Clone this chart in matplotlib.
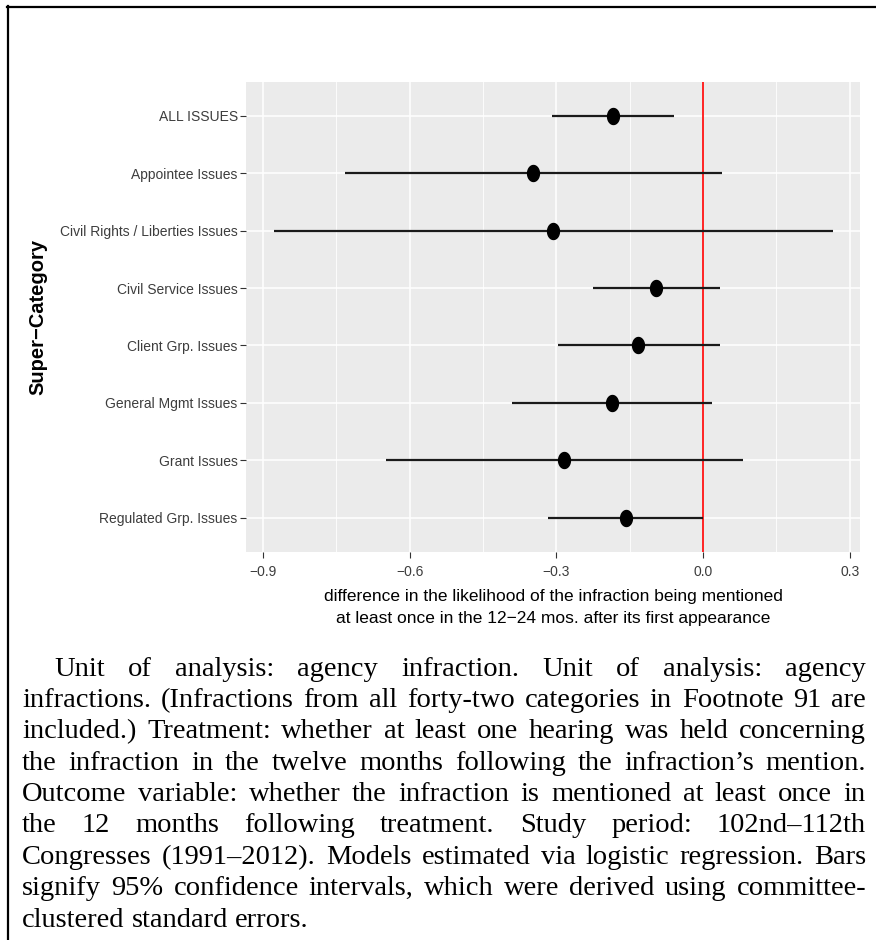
import numpy as np
import matplotlib
matplotlib.use('Agg')
import matplotlib.pyplot as plt
from matplotlib.path import Path
from matplotlib.lines import Line2D
from matplotlib import font_manager

# data
categories = ['ALL ISSUES', 'Appointee Issues', 'Civil Rights / Liberties Issues',
              'Civil Service Issues', 'Client Grp. Issues', 'General Mgmt Issues',
              'Grant Issues', 'Regulated Grp. Issues']
estimates = [-0.185, -0.348, -0.308, -0.097, -0.133, -0.187, -0.284, -0.158]
ci_low = [-0.309, -0.733, -0.877, -0.225, -0.297, -0.390, -0.649, -0.317]
ci_high = [-0.060, 0.038, 0.266, 0.034, 0.034, 0.018, 0.082, 0.000]
x_ticks = [-0.9, -0.6, -0.3, 0.0, 0.3]
x_minor = [-0.75, -0.45, -0.15, 0.15]

x_title = ['difference in the likelihood of the infraction being mentioned',
           'at least once in the 12\u221224 mos. after its first appearance']
y_title = 'Super\u2212Category'

caption = [
    'Unit of analysis: agency infraction. Unit of analysis: agency',
    'infractions. (Infractions from all forty-two categories in Footnote 91 are',
    'included.) Treatment: whether at least one hearing was held concerning',
    'the infraction in the twelve months following the infraction\u2019s mention.',
    'Outcome variable: whether the infraction is mentioned at least once in',
    'the 12 months following treatment. Study period: 102nd\u2013112th',
    'Congresses (1991\u20132012). Models estimated via logistic regression. Bars',
    'signify 95% confidence intervals, which were derived using committee-',
    'clustered standard errors.',
]

names = {f.name for f in font_manager.fontManager.ttflist}
sans = 'Liberation Sans Narrow' if 'Liberation Sans Narrow' in names else 'Liberation Sans'
plt.rcParams['font.family'] = [sans, 'DejaVu Sans']

W, H = 876, 940
fig = plt.figure(figsize=(W / 100, H / 100), dpi=100)

# page border (top and left only)
fig.add_artist(Line2D([7.5 / W, 7.5 / W], [0, 1 - 5.5 / H], color='black', lw=1.6))
fig.add_artist(Line2D([6.5 / W, 1], [1 - 6.5 / H, 1 - 6.5 / H], color='black', lw=1.6))

ax = fig.add_axes([246 / W, 1 - 552 / H, 614 / W, 470.5 / H])
ax.set_facecolor('#EBEBEB')
for s in ax.spines.values():
    s.set_visible(False)

# slightly tall oval marker, as in the reference
t = np.linspace(0, 2 * np.pi, 60)
oval = Path(np.column_stack([0.74 * np.cos(t), np.sin(t)]), closed=True)

y = np.arange(len(categories))
ax.axvline(0, color='#FF0000', lw=1.2, zorder=2.5)
ax.hlines(y, ci_low, ci_high, color='#1a1a1a', lw=1.6, zorder=3)
ax.plot(estimates, y, ls='none', marker=oval, ms=11.5, color='black', zorder=4)

ax.set_xlim(-0.935, 0.321)
ax.set_ylim(len(categories) - 1 + 0.6, -0.6)
ax.set_yticks(y)
ax.set_yticklabels(categories)
ax.set_xticks(x_ticks)
ax.set_xticklabels([f'{v:.1f}'.replace('-', '\u2212') for v in x_ticks])
ax.set_xticks(x_minor, minor=True)
ax.set_axisbelow(True)
ax.grid(which='major', color='white', lw=1.1)
ax.grid(which='minor', axis='x', color='white', lw=0.6)
ax.tick_params(which='minor', length=0)
ax.tick_params(which='major', length=4, width=0.8, color='#333333',
               labelcolor='#3d3d3d', labelsize=10)
ax.tick_params(axis='x', pad=5)
ax.tick_params(axis='y', pad=2)

fig.text(553 / W, 1 - 597 / H, x_title[0], ha='center', va='center', fontsize=12.5, color='black')
fig.text(553 / W, 1 - 619 / H, x_title[1], ha='center', va='center', fontsize=12.5, color='black')
fig.text(38 / W, 1 - 317 / H, y_title, rotation=90, ha='center', va='center',
         fontsize=14.5, fontweight='bold', color='black')

# justified caption paragraph
renderer = fig.canvas.get_renderer()
x0, x1, indent = 22, 866, 32
space = 0.25


def natural_width(line, size):
    tx = fig.text(0, 0, line, family='Liberation Serif', fontsize=size)
    w = tx.get_window_extent(renderer).width
    tx.remove()
    return w


fs = 20.5
widest = max(natural_width(l, fs) + (indent if i == 0 else 0)
             for i, l in enumerate(caption[:-1]))
if widest > x1 - x0:
    fs *= (x1 - x0) / widest

line_y = 666
for i, line in enumerate(caption):
    words = line.split(' ')
    texts = [fig.text(0, 1 - line_y / H, w, family='Liberation Serif', fontsize=fs,
                      va='center_baseline', color='black') for w in words]
    widths = [tx.get_window_extent(renderer).width for tx in texts]
    start = x0 + (indent if i == 0 else 0)
    if i == len(caption) - 1:
        gap = fs * space * 100 / 72
    else:
        gap = (x1 - start - sum(widths)) / (len(words) - 1)
    x = start
    for tx, w in zip(texts, widths):
        tx.set_x(x / W)
        x += w + gap
    line_y += 31.4

fig.savefig('out.png', dpi=100)
